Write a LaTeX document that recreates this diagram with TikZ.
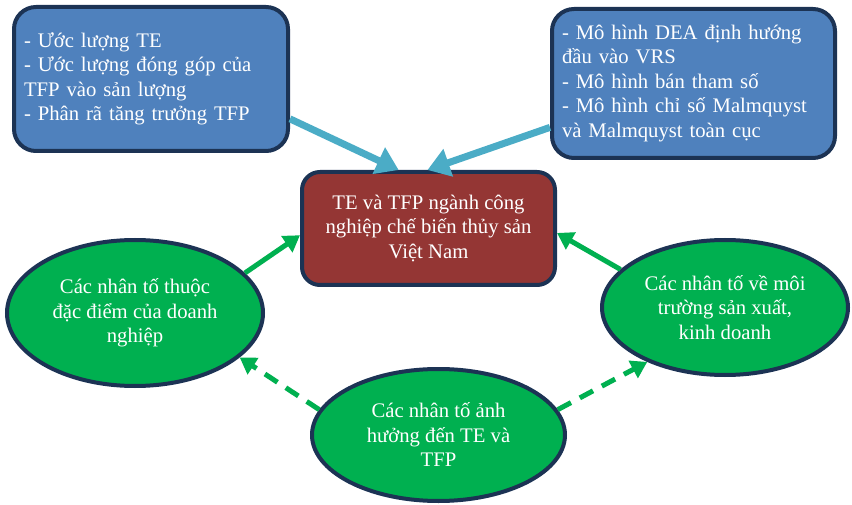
\documentclass[tikz,border=0pt]{standalone}
\usepackage{fontspec}
\setmainfont{Liberation Serif}
\usepackage{xcolor}
\usetikzlibrary{arrows.meta,shapes.geometric}
\definecolor{boxblue}{HTML}{4F81BD}
\definecolor{navy}{HTML}{1C3354}
\definecolor{darkred}{HTML}{943634}
\definecolor{leafgreen}{HTML}{00B050}
\definecolor{skyblue}{HTML}{4BACC6}
\begin{document}
\begin{tikzpicture}[x=1pt,y=-1pt,
txt/.style={text=white,font=\fontsize{20.7}{24.5}\selectfont},
bluebox/.style={txt,draw=navy,line width=4pt,fill=boxblue,rounded corners=22pt,inner xsep=10pt,align=left},
redbox/.style={txt,draw=navy,line width=4pt,fill=darkred,rounded corners=18pt,align=center},
greenell/.style={txt,ellipse,draw=navy,line width=4pt,fill=leafgreen,inner sep=0pt,align=center},
bluearr/.style={-{Triangle[length=22pt,width=28pt]},line width=7pt,color=skyblue},
greenarr/.style={-{Triangle[length=16pt,width=19pt]},line width=5pt,color=leafgreen},
dasharr/.style={greenarr,dash pattern=on 15pt off 10pt}]
\useasboundingbox (0,0) rectangle (852,505);
\node[bluebox,minimum width=274,minimum height=144,text width=254] (A) at (151,79)
 {- Ước lượng TE\\- Ước lượng đóng góp của\\TFP vào sản lượng\\- Phân rã tăng trưởng TFP};
\node[bluebox,minimum width=283,minimum height=149,text width=263] (B) at (693.5,83.5)
 {- Mô hình DEA định hướng\\đầu vào VRS\\- Mô hình bán tham số\\- Mô hình chỉ số Malmquyst\\và Malmquyst toàn cục};
\node[redbox,minimum width=253,minimum height=113] (C) at (428.5,228.5)
 {TE và TFP ngành công\\nghiệp chế biến thủy sản\\Việt Nam};
\node[greenell,minimum width=256,minimum height=146] (D) at (135,313)
 {Các nhân tố thuộc\\đặc điểm của doanh\\nghiệp};
\node[greenell,minimum width=246,minimum height=135] (E) at (725,307.5)
 {Các nhân tố về môi\\trường sản xuất,\\kinh doanh};
\node[greenell,minimum width=253,minimum height=132] (F) at (438.5,435)
 {Các nhân tố ảnh\\hưởng đến TE và\\TFP};
\path[bluearr]
(A.-16) edge (C.117)
(B.197) edge (C.91);
\path[greenarr]
(D.20) edge (C.183)
(E.160) edge (C.-2);
\path[dasharr]
(F.168) edge (D.-23)
(F.12) edge (E.215);
\end{tikzpicture}
\end{document}
